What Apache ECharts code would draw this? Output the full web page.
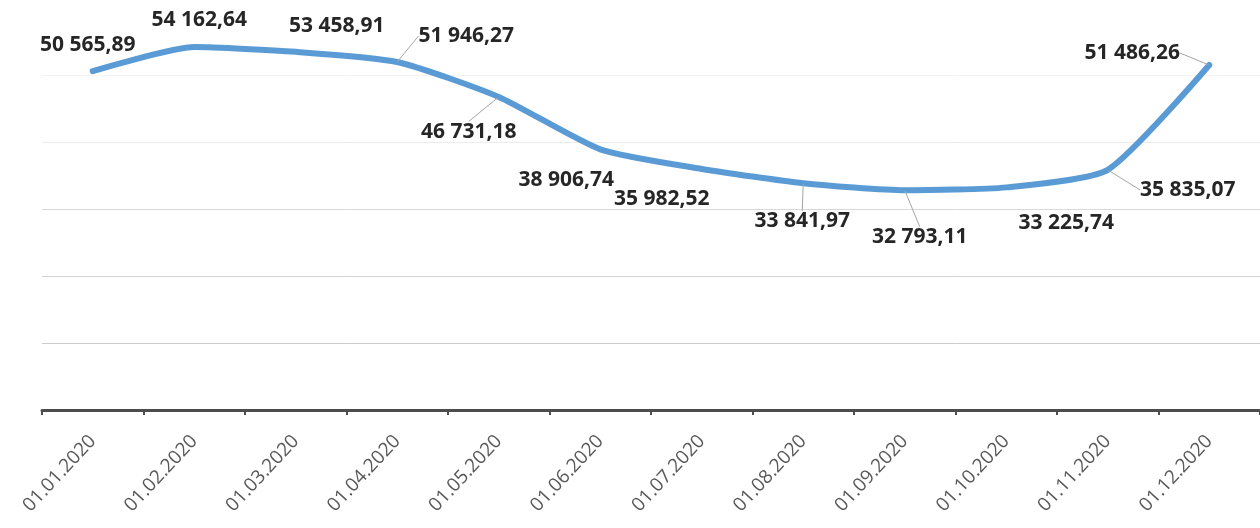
<!DOCTYPE html>
<html>
<head>
<meta charset="utf-8">
<script src="https://cdn.jsdelivr.net/npm/echarts@6/dist/echarts.min.js"></script>
<style>
html,body{margin:0;padding:0;background:#fff;}
#chart{width:1260px;height:528px;}
</style>
</head>
<body>
<div id="chart"></div>
<script>
const categories = ['01.01.2020','01.02.2020','01.03.2020','01.04.2020','01.05.2020','01.06.2020','01.07.2020','01.08.2020','01.09.2020','01.10.2020','01.11.2020','01.12.2020'];
const values = [50565.89, 54162.64, 53458.91, 51946.27, 46731.18, 38906.74, 35982.52, 33841.97, 32793.11, 33225.74, 35835.07, 51486.26];
const labelOffsets = [[-5,-26],[5,-27],[41,-26],[69,-26],[-30,35],[-34,31],[-40,30],[-1,38],[15,47],[60,36],[80,20],[-77,-12]];
const leaderShown = [false,false,false,true,true,false,false,true,true,false,true,true];

function fmt(v){
  const parts = v.toFixed(2).split('.');
  return parts[0].replace(/\B(?=(\d{3})+(?!\d))/g, ' ') + ',' + parts[1];
}

const chart = echarts.init(document.getElementById('chart'));
chart.setOption({
  backgroundColor: '#ffffff',
  animation: false,
  grid: {left: 42, right: 0, top: 8, bottom: 118, containLabel: false},
  xAxis: {
    type: 'category',
    data: categories,
    boundaryGap: true,
    axisLine: {show: true, lineStyle: {color: '#4d4d4d', width: 3}},
    axisTick: {show: true, length: 5, lineStyle: {color: '#4d4d4d', width: 2}},
    axisLabel: {rotate: 47, margin: 28, color: '#595959', fontFamily: 'Open Sans', fontSize: 19, interval: 0}
  },
  yAxis: {
    type: 'value',
    min: 0, max: 60000, interval: 10000,
    axisLine: {show: false}, axisTick: {show: false}, axisLabel: {show: false},
    splitLine: {show: true, lineStyle: {color: ['#ffffff','#cccccc','#d3d3d3','#d9d9d9','#ececec','#f4f4f4','#ffffff'], width: 1}}
  },
  series: [{
    type: 'line',
    data: values.map((v, i) => ({
      value: v,
      labelLine: {show: leaderShown[i]}
    })),
    smooth: 0.2,
    showSymbol: true,
    symbol: 'circle',
    symbolSize: 1,
    itemStyle: {color: '#5b9bd5'},
    lineStyle: {color: '#5b9bd5', width: 6, cap: 'round', join: 'round'},
    label: {
      show: true,
      position: 'inside',
      formatter: p => fmt(p.value),
      fontFamily: 'Open Sans',
      fontWeight: 'bold',
      fontSize: 21,
      color: '#262626'
    },
    labelLine: {show: false, lineStyle: {color: '#a6a6a6', width: 1}},
    labelLayout: function (params) {
      const o = labelOffsets[params.dataIndex];
      return {dx: o[0], dy: o[1]};
    }
  }]
});
</script>
</body>
</html>
